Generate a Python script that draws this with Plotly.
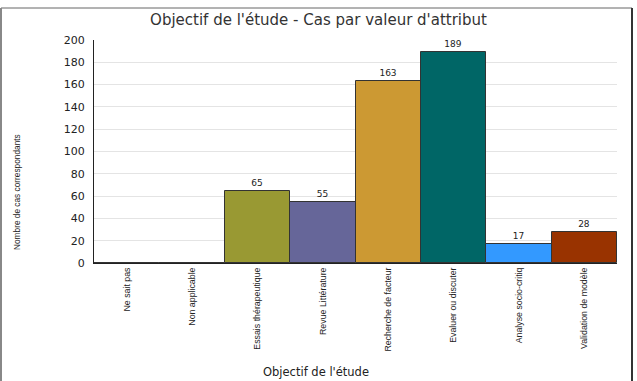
import plotly.graph_objects as go

categories = ["Ne sait pas", "Non applicable", "Essais thérapeutique", "Revue Littérature",
              "Recherche de facteur", "Evaluer ou discuter", "Analyse socio-critiq", "Validation de modèle"]
values = [0, 0, 65, 55, 163, 189, 17, 28]
labels = ["", "", "65", "55", "163", "189", "17", "28"]
colors = ["#999933", "#999933", "#999933", "#666699", "#CC9933", "#006666", "#3399FF", "#993300"]
y_ticks = [0, 20, 40, 60, 80, 100, 120, 140, 160, 180, 200]

W, H = 637, 381
L, R, T, B = 94, 20, 40, 118
pw, ph = W - L - R, H - T - B

def px(x):
    return (x - L) / pw

def py(y):
    return (H - B - y) / ph

NARROW = "Liberation Sans Narrow, Liberation Sans, Arial"
WIDE = "DejaVu Sans, Verdana, sans-serif"

fig = go.Figure()
fig.add_trace(go.Bar(
    x=categories, y=values, text=labels, textposition="outside",
    textfont=dict(family=WIDE, size=9, color="#222"),
    marker=dict(color=colors, line=dict(color="#333333", width=1)),
    cliponaxis=False,
))

fig.update_layout(
    width=W, height=H,
    margin=dict(l=L, r=R, t=T, b=B, autoexpand=False),
    paper_bgcolor="white", plot_bgcolor="white",
    bargap=0, showlegend=False,
    title=dict(text="Objectif de l'étude - Cas par valeur d'attribut",
               x=0.5, xanchor="center", y=1 - 20 / H, yanchor="middle",
               font=dict(family=WIDE, size=15, color="#333")),
    xaxis=dict(tickangle=-90, showgrid=False, showline=True, linecolor="#222", linewidth=1,
               automargin=False,
               tickfont=dict(family=NARROW, size=8.8, color="#222"),
               ticks="", ticklen=0),
    yaxis=dict(range=[0, 200], tickvals=y_ticks, showgrid=True, gridcolor="#e4e4e4",
               showline=True, linecolor="#222", linewidth=1, zeroline=False, automargin=False,
               ticks="", ticklabelstandoff=6,
               tickfont=dict(family=WIDE, size=11, color="#222")),
)

fig.add_annotation(text="Nombre de cas correspondants", xref="paper", yref="paper",
                   x=px(17), y=py(192), showarrow=False, textangle=-90,
                   xanchor="center", yanchor="middle",
                   font=dict(family=NARROW, size=8.3, color="#222"))

fig.add_annotation(text="Objectif de l'étude", xref="paper", yref="paper",
                   x=px(316), y=py(372), showarrow=False, xanchor="center", yanchor="middle",
                   font=dict(family=WIDE, size=11.5, color="#222"))

fig.add_shape(type="line", xref="paper", yref="paper", x0=px(1), x1=px(632), y0=py(8), y1=py(8),
              line=dict(color="#666", width=1))
fig.add_shape(type="line", xref="paper", yref="paper", x0=px(1), x1=px(1), y0=py(8), y1=py(381),
              line=dict(color="#888", width=2))
fig.add_shape(type="line", xref="paper", yref="paper", x0=px(632), x1=px(632), y0=py(8), y1=py(381),
              line=dict(color="#333", width=2))

fig.write_html("out.html")
